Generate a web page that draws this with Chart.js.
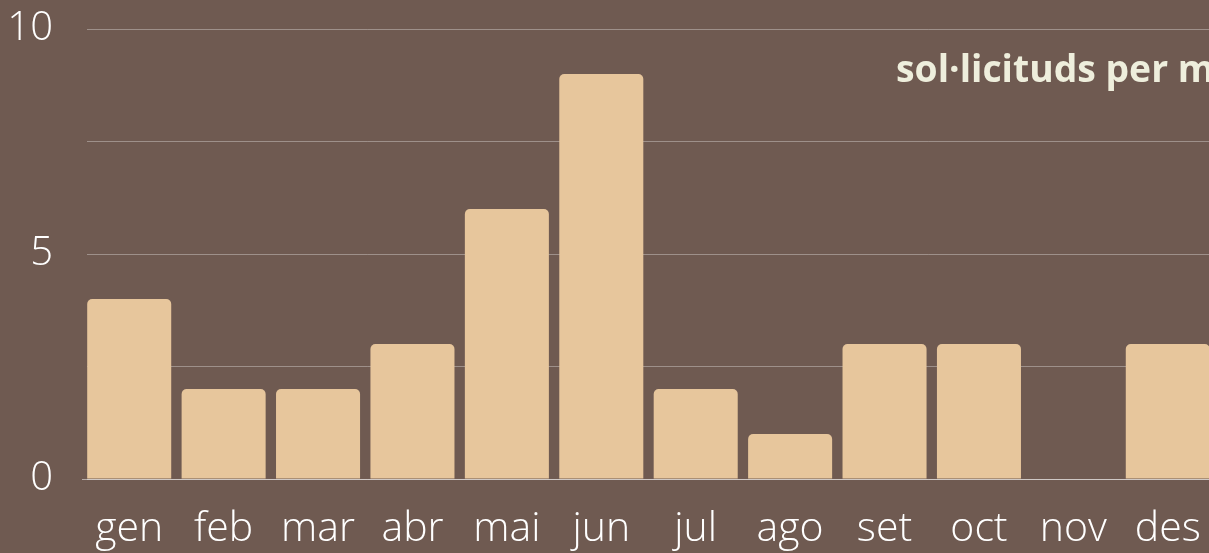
<!DOCTYPE html>
<html>
<head>
<meta charset="utf-8">
<script src="https://cdn.jsdelivr.net/npm/chart.js@4"></script>
<style>
  html, body { margin:0; padding:0; background:#6F5A51; overflow:hidden; width:1209px; height:553px; }
  #wrap { position:relative; width:1209px; height:553px; overflow:hidden; }
  canvas { display:block; }
  #title { position:absolute; left:896px; top:43px; font-family:"Open Sans"; font-weight:700; font-size:37.3px; color:#EEEEDC; white-space:nowrap; line-height:49px; }
</style>
</head>
<body>
<div id="wrap">
<canvas id="c" width="1209" height="553"></canvas>
<div id="title">sol·licituds per mes</div>
</div>
<script>
const categories = ["gen","feb","mar","abr","mai","jun","jul","ago","set","oct","nov","des"];
const requests = [4,2,2,3,6,9,2,1,3,3,0,3];
const yTickLabels = [0,5,10];

const shiftX = {
  id: 'shiftX',
  afterLayout(chart) {
    const x = chart.scales.x;
    x.left -= 5;
    x.right += 6;
    x.width += 11;
    x.configure();
  }
};

function noPad(s) {
  s.paddingTop = 0; s.paddingBottom = 0; s.paddingLeft = 0; s.paddingRight = 0;
}

new Chart(document.getElementById('c'), {
  type: 'bar',
  data: {
    labels: categories,
    datasets: [{
      label: 'sol·licituds per mes',
      data: requests,
      backgroundColor: '#E7C69C',
      borderRadius: 5,
      barPercentage: 0.89,
      categoryPercentage: 1.0
    }]
  },
  options: {
    responsive: false,
    animation: false,
    layout: { autoPadding: false, padding: { left: 0, top: 29, right: 0, bottom: 0 } },
    plugins: { legend: { display: false }, title: { display: false }, tooltip: { enabled: false } },
    scales: {
      x: {
        grid: { display: false, drawTicks: false },
        border: { display: true, color: 'rgba(255,255,255,0.5)', width: 1 },
        ticks: { color: '#FFFFFF', font: { family: 'Open Sans', weight: 300, size: 41 }, padding: 26, maxRotation: 0, autoSkip: false },
        afterFit: (s) => { s.height = 74; noPad(s); }
      },
      y: {
        min: 0, max: 10,
        grid: { color: 'rgba(255,255,255,0.33)', drawTicks: false, lineWidth: 1 },
        border: { display: false },
        ticks: {
          stepSize: 2.5,
          color: '#FFFFFF',
          font: { family: 'Open Sans', weight: 300, size: 40 },
          padding: 34,
          callback: (v) => yTickLabels.includes(v) ? String(v) : ''
        },
        afterFit: (s) => { s.width = 87; noPad(s); }
      }
    }
  },
  plugins: [shiftX]
});
</script>
</body>
</html>
